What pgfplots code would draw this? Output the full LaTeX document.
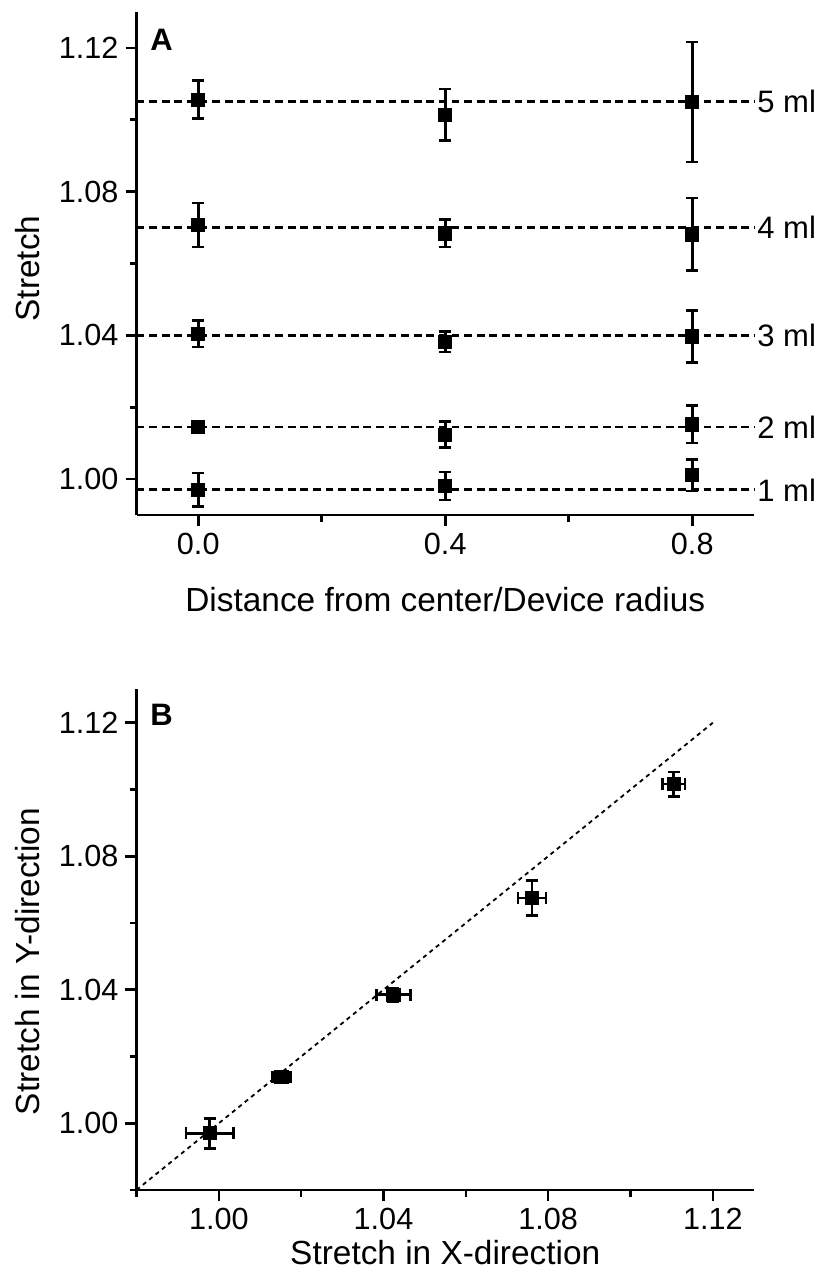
\documentclass[border=0pt]{standalone}
\usepackage{pgfplots}
\pgfplotsset{compat=1.18}
\usepackage{fontspec}
\setmainfont{Liberation Sans}
\tikzset{mllab/.style={anchor=west, inner sep=1pt, font=\fontsize{15.5}{18}\selectfont, black}}
\begin{document}
\begin{tikzpicture}
\useasboundingbox (0,0) rectangle (408.5pt,636pt);
\pgfplotsset{
  panel/.style={
    scale only axis, width=308.75pt,
    axis lines=left, axis line style={-, line width=1.3pt},
    tick align=outside, major tick length=5.5pt, minor tick length=3.3pt,
    tick style={black, line width=1.3pt},
    tick label style={font=\fontsize{15.3}{18}\selectfont},
    /pgf/number format/assume math mode=true,
    label style={font=\fontsize{16.7}{20}\selectfont},
    clip=false,
  },
  pts/.style={only marks, mark=square*, mark size=3.3pt, black,
    error bars/error bar style={line width=1.3pt, black},
    error bars/error mark options={black, mark size=3pt, line width=1.3pt, rotate=90}},
  ref/.style={black, line width=1.4pt, dash pattern=on 3.9pt off 2.4pt},
}
% ---------- Panel A ----------
\begin{axis}[panel,
  at={(68.25pt,378.5pt)}, anchor=south west, height=251.5pt,
  xmin=-0.1, xmax=0.9, ymin=0.99, ymax=1.13,
  xtick={0,0.4,0.8}, minor xtick={0.2,0.6},
  ytick={1.00,1.04,1.08,1.12}, minor ytick={1.02,1.06,1.10},
  xticklabel style={/pgf/number format/.cd, fixed, fixed zerofill, precision=1},
  yticklabel style={/pgf/number format/.cd, fixed, fixed zerofill, precision=2},
  xlabel={Distance from center/Device radius},
  ylabel={Stretch},
  xlabel style={at={(axis description cs:0.5,-0.191)}, anchor=base},
  ylabel style={at={(axis description cs:-0.177,0.49)}, anchor=center},
]
\addplot[ref] coordinates {(-0.1,1.105) (0.9,1.105)} node[mllab, pos=1] {5 ml};
\addplot[ref] coordinates {(-0.1,1.070) (0.9,1.070)} node[mllab, pos=1] {4 ml};
\addplot[ref] coordinates {(-0.1,1.040) (0.9,1.040)} node[mllab, pos=1] {3 ml};
\addplot[ref] coordinates {(-0.1,1.0145) (0.9,1.0145)} node[mllab, pos=1] {2 ml};
\addplot[ref] coordinates {(-0.1,0.997) (0.9,0.997)} node[mllab, pos=1] {1 ml};
% 1 ml
\addplot[pts, error bars/.cd, y dir=both, y explicit] coordinates {
 (0,0.9970) +- (0,0.0047)
 (0.4,0.9981) +- (0,0.0039)
 (0.8,1.0011) +- (0,0.0044)};
% 2 ml
\addplot[pts, error bars/.cd, y dir=both, y explicit] coordinates {
 (0,1.0145) +- (0,0.0010)
 (0.4,1.0124) +- (0,0.0037)
 (0.8,1.0152) +- (0,0.0052)};
% 3 ml
\addplot[pts, error bars/.cd, y dir=both, y explicit] coordinates {
 (0,1.0405) +- (0,0.0037)
 (0.4,1.0382) +- (0,0.0028)
 (0.8,1.0397) +- (0,0.0072)};
% 4 ml
\addplot[pts, error bars/.cd, y dir=both, y explicit] coordinates {
 (0,1.0707) +- (0,0.0061)
 (0.4,1.0684) +- (0,0.0038)
 (0.8,1.0681) +- (0,0.0101)};
% 5 ml
\addplot[pts, error bars/.cd, y dir=both, y explicit] coordinates {
 (0,1.1056) +- (0,0.0053)
 (0.4,1.1014) +- (0,0.0072)
 (0.8,1.1050) +- (0,0.0167)};
\node[anchor=west, inner sep=0pt, font=\bfseries\fontsize{15.5}{18}\selectfont] at (rel axis cs:0.022,0.944) {A};
\end{axis}
% ---------- Panel B ----------
\begin{axis}[panel,
  at={(68.25pt,41pt)}, anchor=south west, height=250.3pt,
  xmin=0.98, xmax=1.13, ymin=0.98, ymax=1.13,
  xtick={1.00,1.04,1.08,1.12}, minor xtick={0.98,1.02,1.06,1.10},
  ytick={1.00,1.04,1.08,1.12}, minor ytick={0.98,1.02,1.06,1.10},
  xticklabel style={/pgf/number format/.cd, fixed, fixed zerofill, precision=2},
  yticklabel style={/pgf/number format/.cd, fixed, fixed zerofill, precision=2},
  xlabel={Stretch in X-direction},
  ylabel={Stretch in Y-direction},
  xlabel style={at={(axis description cs:0.5,-0.148)}, anchor=base},
  ylabel style={at={(axis description cs:-0.177,0.456)}, anchor=center},
]
\addplot[black, line width=0.9pt, dash pattern=on 2.1pt off 2pt] coordinates {(0.98,0.98) (1.12,1.12)};
\addplot[pts, error bars/.cd, x dir=both, x explicit, y dir=both, y explicit] coordinates {
 (0.9978,0.9970) +- (0.0058,0.0045)
 (1.0152,1.0139) +- (0.0022,0.0010)
 (1.0424,1.0385) +- (0.0041,0.0020)
 (1.0761,1.0675) +- (0.0034,0.0052)
 (1.1105,1.1016) +- (0.0027,0.0037)};
\node[anchor=west, inner sep=0pt, font=\bfseries\fontsize{15.5}{18}\selectfont] at (rel axis cs:0.022,0.95) {B};
\end{axis}
\end{tikzpicture}
\end{document}
